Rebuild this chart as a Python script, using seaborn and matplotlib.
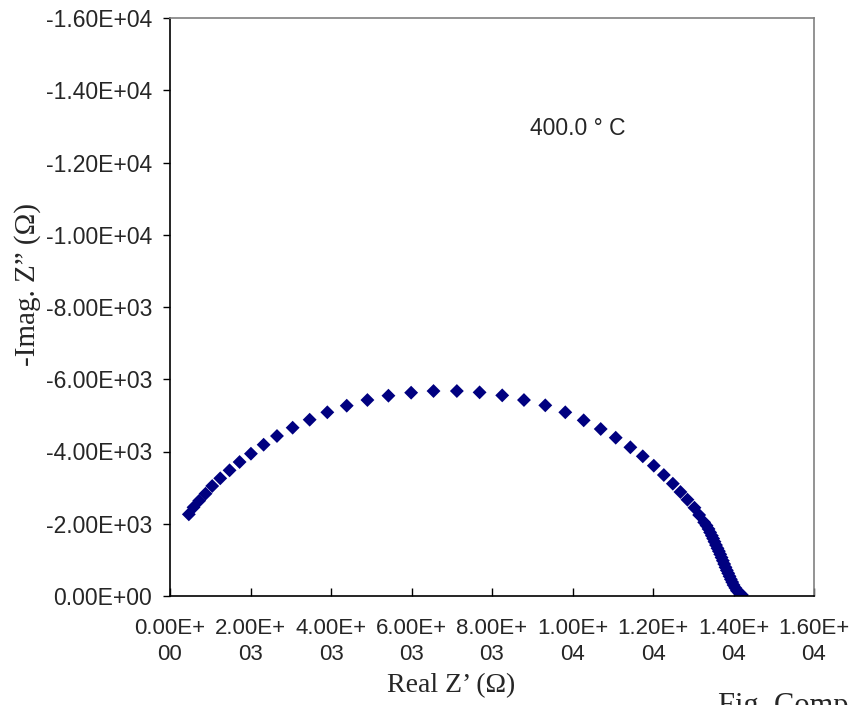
import matplotlib
matplotlib.use("Agg")
import matplotlib.pyplot as plt
import seaborn as sns
import pandas as pd
from matplotlib.ticker import FuncFormatter, MultipleLocator

# Data (Nyquist plot at 400 °C)
real_z = [468, 585, 726, 883, 1049, 1248, 1480, 1729, 2011, 2326, 2658, 3047,
          3470, 3909, 4391, 4905, 5427, 5991, 6547, 7127, 7692, 8254, 8794,
          9324, 9821, 10278, 10701, 11074, 11438, 11746, 12020, 12269, 12493,
          12682, 12856, 13030, 13147, 13271, 13330, 13380, 13420, 13462, 13495,
          13528, 13565, 13603, 13637, 13670, 13703, 13736, 13769, 13802, 13835,
          13869, 13902, 13935, 13968, 14001, 14045, 14085, 14150, 14209]
imag_z = [-2261, -2455, -2638, -2832, -3045, -3257, -3479, -3709, -3939, -4188,
          -4429, -4659, -4880, -5085, -5268, -5425, -5545, -5628, -5674, -5674,
          -5637, -5554, -5425, -5278, -5085, -4863, -4623, -4382, -4116, -3867,
          -3607, -3349, -3109, -2879, -2666, -2444, -2242, -2040, -1950, -1855,
          -1760, -1670, -1590, -1503, -1410, -1320, -1240, -1154, -1065, -977,
          -885, -794, -710, -628, -545, -462, -385, -304, -225, -147, -80, -28]
annotation = "400.0 \u00b0 C"
x_label = "Real Z\u2019 (\u03a9)"
y_label = "-Imag. Z\u201d (\u03a9)"

df = pd.DataFrame({"real": real_z, "imag": imag_z})

sns.set_theme(style="white")
plt.rcParams["font.family"] = ["Liberation Sans", "DejaVu Sans"]

fig = plt.figure(figsize=(8.52, 7.05), dpi=100)
ax = fig.add_axes([170 / 852, 1 - 596 / 705, 644 / 852, 578 / 705])

sns.scatterplot(data=df, x="real", y="imag", marker="D", s=50,
                color="#000080", edgecolor="none", linewidth=0, ax=ax)

ax.set_xlim(0, 16000)
ax.set_ylim(0, -16000)
ax.xaxis.set_major_locator(MultipleLocator(2000))
ax.yaxis.set_major_locator(MultipleLocator(2000))


def xfmt(v, pos):
    s = f"{v:.2E}"
    i = s.index("+") + 1 if "+" in s else s.index("-", 1) + 1
    return s[:i] + "\n" + s[i:]


ax.xaxis.set_major_formatter(FuncFormatter(xfmt))
ax.yaxis.set_major_formatter(FuncFormatter(lambda v, p: f"{v:.2E}"))

ax.tick_params(axis="x", direction="in", length=6, width=1, color="black",
               labelsize=16, pad=16, bottom=True)
ax.tick_params(axis="y", direction="out", length=5, width=1, color="black",
               labelsize=16.5, pad=8, left=True)
for lbl in ax.get_xticklabels():
    lbl.set_linespacing(1.3)

for side in ["left", "bottom"]:
    ax.spines[side].set_color("black")
    ax.spines[side].set_linewidth(1.2)
for side in ["top", "right"]:
    ax.spines[side].set_color("#808080")
    ax.spines[side].set_linewidth(1.2)
    ax.spines[side].set_visible(True)

ax.set_xlabel(x_label, family=["Liberation Serif", "DejaVu Serif"], fontsize=20)
ax.set_ylabel(y_label, family=["Liberation Serif", "DejaVu Serif"], fontsize=21)
ax.xaxis.set_label_coords((451 - 170) / 644, (596 - 686) / 578)
ax.yaxis.set_label_coords((28 - 170) / 644, (596 - 285) / 578)
ax.xaxis.label.set_va("center")
ax.yaxis.label.set_va("center")

ax.text(8950, -12950, annotation, ha="left", va="center", fontsize=16.5)

fig.text(718 / 852, 1 - 692 / 705, "Fig. Comp",
         family=["Liberation Serif", "DejaVu Serif"], fontsize=22, va="top")

fig.savefig("out.png", dpi=100)
